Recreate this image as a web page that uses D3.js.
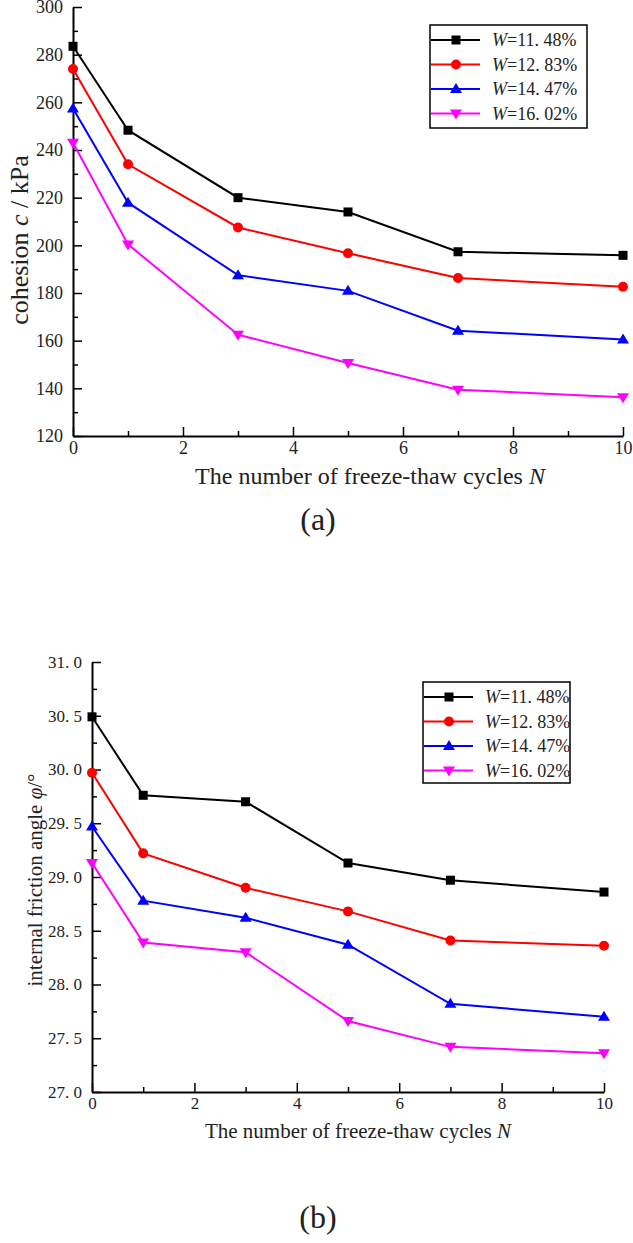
<!DOCTYPE html>
<html>
<head>
<meta charset="utf-8">
<script src="https://cdn.jsdelivr.net/npm/d3@7"></script>
<style>
  body { margin: 0; background: #fff; }
  svg { display: block; }
  text { font-family: "Liberation Serif", "DejaVu Serif", serif; fill: #222; }
</style>
</head>
<body>
<div id="chart"></div>
<script>
// freeze-thaw cycles
const cycles = [0, 1, 3, 5, 7, 10];
const moistureLabels = ["11. 48%", "12. 83%", "14. 47%", "16. 02%"];
const colors = ["#000000", "#ff0000", "#0000ff", "#ff00ff"];
const symbols = ["square", "circle", "triangle", "triangleDown"];

// cohesion c / kPa
const cohesion_1148 = [283.5, 248.3, 220.0, 214.0, 197.3, 195.8];
const cohesion_1283 = [274.0, 234.0, 207.5, 196.7, 186.3, 182.6];
const cohesion_1447 = [257.4, 217.9, 187.5, 180.9, 164.2, 160.5];
const cohesion_1602 = [243.0, 200.4, 162.5, 150.6, 139.4, 136.3];

// internal friction angle
const friction_1148 = [30.49, 29.76, 29.70, 29.13, 28.97, 28.86];
const friction_1283 = [29.97, 29.22, 28.90, 28.68, 28.41, 28.36];
const friction_1447 = [29.47, 28.78, 28.62, 28.37, 27.82, 27.70];
const friction_1602 = [29.13, 28.39, 28.30, 27.66, 27.42, 27.36];

const xTicks = [0, 2, 4, 6, 8, 10];
const cohesionTicks = [120, 140, 160, 180, 200, 220, 240, 260, 280, 300];
const frictionTicks = [27.0, 27.5, 28.0, 28.5, 29.0, 29.5, 30.0, 30.5, 31.0];

const width = 633, height = 1243;
const svg = d3.select("#chart").append("svg")
  .attr("width", width)
  .attr("height", height);

function drawMarker(g, type, x, y, color) {
  if (type === "square") {
    g.append("rect").attr("x", x - 4.5).attr("y", y - 4.5)
      .attr("width", 9).attr("height", 9).attr("fill", color);
  } else if (type === "circle") {
    g.append("circle").attr("cx", x).attr("cy", y).attr("r", 5).attr("fill", color);
  } else if (type === "triangle") {
    g.append("path").attr("d", `M${x},${y - 6} L${x + 6},${y + 4} L${x - 6},${y + 4} Z`).attr("fill", color);
  } else {
    g.append("path").attr("d", `M${x},${y + 6} L${x + 6},${y - 4} L${x - 6},${y - 4} Z`).attr("fill", color);
  }
}

function panel(opts) {
  const { x0, x1, yTop, yBottom, yDomain, yTicks, yMinorStep, series, fmt, tickFont,
          yLabel, xLabel, tagY, tag, legend } = opts;
  const g = svg.append("g");

  const x = d3.scaleLinear().domain([0, 10]).range([x0, x1]);
  const y = d3.scaleLinear().domain(yDomain).range([yBottom, yTop]);

  // minor ticks
  const minorX = d3.range(1, 10, 2);
  const minorY = d3.range(yDomain[0] + yMinorStep, yDomain[1], yMinorStep * 2);

  g.append("g").attr("transform", `translate(0,${yBottom})`)
    .call(d3.axisBottom(x).tickValues(minorX).tickSize(-5).tickFormat(""))
    .call(a => a.select(".domain").remove())
    .call(a => a.selectAll("line").attr("stroke", "#000").attr("stroke-width", 1.5));
  g.append("g").attr("transform", `translate(${x0},0)`)
    .call(d3.axisLeft(y).tickValues(minorY).tickSize(-5).tickFormat(""))
    .call(a => a.select(".domain").remove())
    .call(a => a.selectAll("line").attr("stroke", "#000").attr("stroke-width", 1.5));

  // major axes
  g.append("g").attr("transform", `translate(0,${yBottom})`)
    .call(d3.axisBottom(x).tickValues(xTicks).tickSize(-9).tickSizeOuter(0).tickPadding(5).tickFormat(d3.format("d")))
    .call(a => a.select(".domain").attr("stroke", "#000").attr("stroke-width", 2))
    .call(a => a.selectAll("line").attr("stroke", "#000").attr("stroke-width", 1.5))
    .call(a => a.selectAll("text").attr("font-size", tickFont).attr("fill", "#222"));
  g.append("g").attr("transform", `translate(${x0},0)`)
    .call(d3.axisLeft(y).tickValues(yTicks).tickSize(-9).tickSizeOuter(0).tickPadding(10).tickFormat(fmt))
    .call(a => a.select(".domain").attr("stroke", "#000").attr("stroke-width", 2))
    .call(a => a.selectAll("line").attr("stroke", "#000").attr("stroke-width", 1.5))
    .call(a => a.selectAll("text").attr("font-size", tickFont).attr("fill", "#222"));

  // series
  const line = d3.line().x((d, i) => x(cycles[i])).y(d => y(d));
  series.forEach((vals, k) => {
    g.append("path").attr("d", line(vals)).attr("fill", "none")
      .attr("stroke", colors[k]).attr("stroke-width", 2);
    vals.forEach((v, i) => drawMarker(g, symbols[k], x(cycles[i]), y(v), colors[k]));
  });

  // y label
  const yl = g.append("text")
    .attr("transform", `translate(${yLabel.x},${yLabel.cy}) rotate(-90)`)
    .attr("text-anchor", "middle").attr("font-size", yLabel.size);
  yLabel.parts.forEach(p => yl.append("tspan").attr("font-style", p.italic ? "italic" : null).text(p.t));

  // x label
  const xl = g.append("text").attr("x", xLabel.cx).attr("y", xLabel.y)
    .attr("text-anchor", "middle").attr("font-size", xLabel.size);
  xl.append("tspan").text("The number of freeze-thaw cycles ");
  xl.append("tspan").attr("font-style", "italic").text("N");

  // tag
  g.append("text").attr("x", 318).attr("y", tagY).attr("text-anchor", "middle")
    .attr("font-size", 32).text(tag);

  // legend
  const lg = g.append("g");
  lg.append("rect").attr("x", legend.x).attr("y", legend.y)
    .attr("width", legend.w).attr("height", legend.h)
    .attr("fill", "#fff").attr("stroke", "#000").attr("stroke-width", 1.5);
  moistureLabels.forEach((lab, k) => {
    const cy = legend.y + 15 + k * 24.5;
    lg.append("line").attr("x1", legend.x + 1).attr("x2", legend.x + 50)
      .attr("y1", cy).attr("y2", cy).attr("stroke", colors[k]).attr("stroke-width", 2);
    drawMarker(lg, symbols[k], legend.x + 26, cy, colors[k]);
    const t = lg.append("text").attr("x", legend.x + 62).attr("y", cy + 6)
      .attr("font-size", 18);
    t.append("tspan").attr("font-style", "italic").text("W");
    t.append("tspan").text("=" + lab);
  });
}

panel({
  x0: 73, x1: 623, yTop: 7, yBottom: 436,
  yDomain: [120, 300], yTicks: cohesionTicks, yMinorStep: 10,
  series: [cohesion_1148, cohesion_1283, cohesion_1447, cohesion_1602],
  fmt: d3.format("d"), tickFont: 18,
  yLabel: { x: 28, cy: 240, size: 26, parts: [{ t: "cohesion " }, { t: "c", italic: true }, { t: " / kPa" }] },
  xLabel: { cx: 370, y: 484, size: 24 },
  tagY: 530, tag: "(a)",
  legend: { x: 430, y: 25, w: 157, h: 103 }
});

panel({
  x0: 92, x1: 604, yTop: 662, yBottom: 1092,
  yDomain: [27, 31], yTicks: frictionTicks, yMinorStep: 0.25,
  series: [friction_1148, friction_1283, friction_1447, friction_1602],
  fmt: d => d.toFixed(1).replace(".", ". "), tickFont: 17,
  yLabel: { x: 42, cy: 880, size: 21, parts: [{ t: "internal friction angle " }, { t: "φ", italic: true }, { t: "/°" }] },
  xLabel: { cx: 358, y: 1138, size: 21 },
  tagY: 1228, tag: "(b)",
  legend: { x: 423, y: 682, w: 147, h: 101 }
});
</script>
</body>
</html>
